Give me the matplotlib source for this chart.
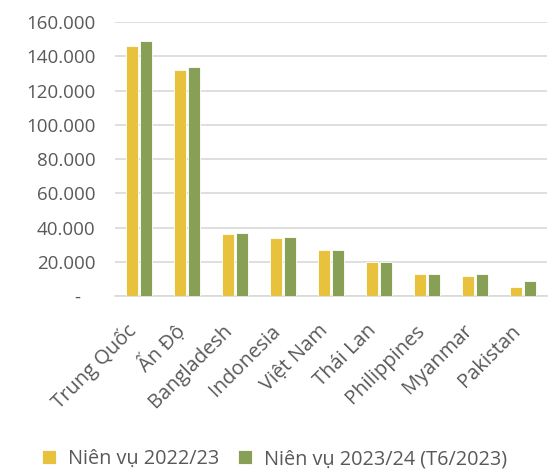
import matplotlib.pyplot as plt
import matplotlib.transforms as mtransforms
import numpy as np
from matplotlib.ticker import FuncFormatter

countries = ['Trung Quốc', 'Ấn Độ', 'Bangladesh', 'Indonesia', 'Việt Nam',
             'Thái Lan', 'Philippines', 'Myanmar', 'Pakistan']
vu_2022 = [146000, 131800, 36000, 33900, 26700, 20000, 12600, 11600, 5500]
vu_2023 = [148900, 134000, 36800, 34200, 26700, 19600, 12600, 12600, 8800]
series_names = ['Niên vụ 2022/23', 'Niên vụ 2023/24 (T6/2023)']

plt.rcParams['font.family'] = ['Open Sans', 'DejaVu Sans']
txt = '#595959'

fig = plt.figure(figsize=(5.49, 4.69), dpi=100)
ax = fig.add_axes([115 / 549, 1 - 296 / 469, 432 / 549, 274 / 469])

x = np.arange(len(countries))
w = 0.25
ax.bar(x - w / 2 - 0.025, vu_2022, w, color='#E8C13D', edgecolor='white', linewidth=0.6,
       label=series_names[0], zorder=3)
ax.bar(x + w / 2 + 0.025, vu_2023, w, color='#88A055', edgecolor='white', linewidth=0.6,
       label=series_names[1], zorder=3)

ax.set_xlim(-0.5, len(countries) - 0.5)
ax.set_ylim(0, 160000)
ax.set_yticks(np.arange(0, 160001, 20000))
# accounting style: zero shown as a dash, set in from the right
ax.yaxis.set_major_formatter(FuncFormatter(
    lambda v, p: '-   ' if v == 0 else f'{int(v):,}'.replace(',', '.')))
ax.grid(axis='y', color='#D9D9D9', linewidth=1.2, zorder=0)
for s in ['top', 'right', 'left']:
    ax.spines[s].set_visible(False)
ax.spines['bottom'].set_color('#D9D9D9')
ax.spines['bottom'].set_linewidth(1.2)
ax.tick_params(axis='both', length=0, labelcolor=txt)
ax.tick_params(axis='y', pad=14, labelsize=13.5)
ax.set_xticks(x)
ax.set_xticklabels(countries, rotation=45, ha='right', va='center',
                   rotation_mode='anchor', fontsize=14.5)
ax.tick_params(axis='x', pad=23)
shift = mtransforms.ScaledTranslation(-4 / 72, 0, fig.dpi_scale_trans)
for lab in ax.get_xticklabels():
    lab.set_transform(lab.get_transform() + shift)

leg = fig.legend(loc='center', bbox_to_anchor=(0.5, 1 - 459 / 469), ncol=2, frameon=False,
                 fontsize=14.3, handlelength=0.75, handleheight=0.75, columnspacing=0.9,
                 handletextpad=0.6)
for t in leg.get_texts():
    t.set_color(txt)

fig.savefig('out.png', dpi=100)
